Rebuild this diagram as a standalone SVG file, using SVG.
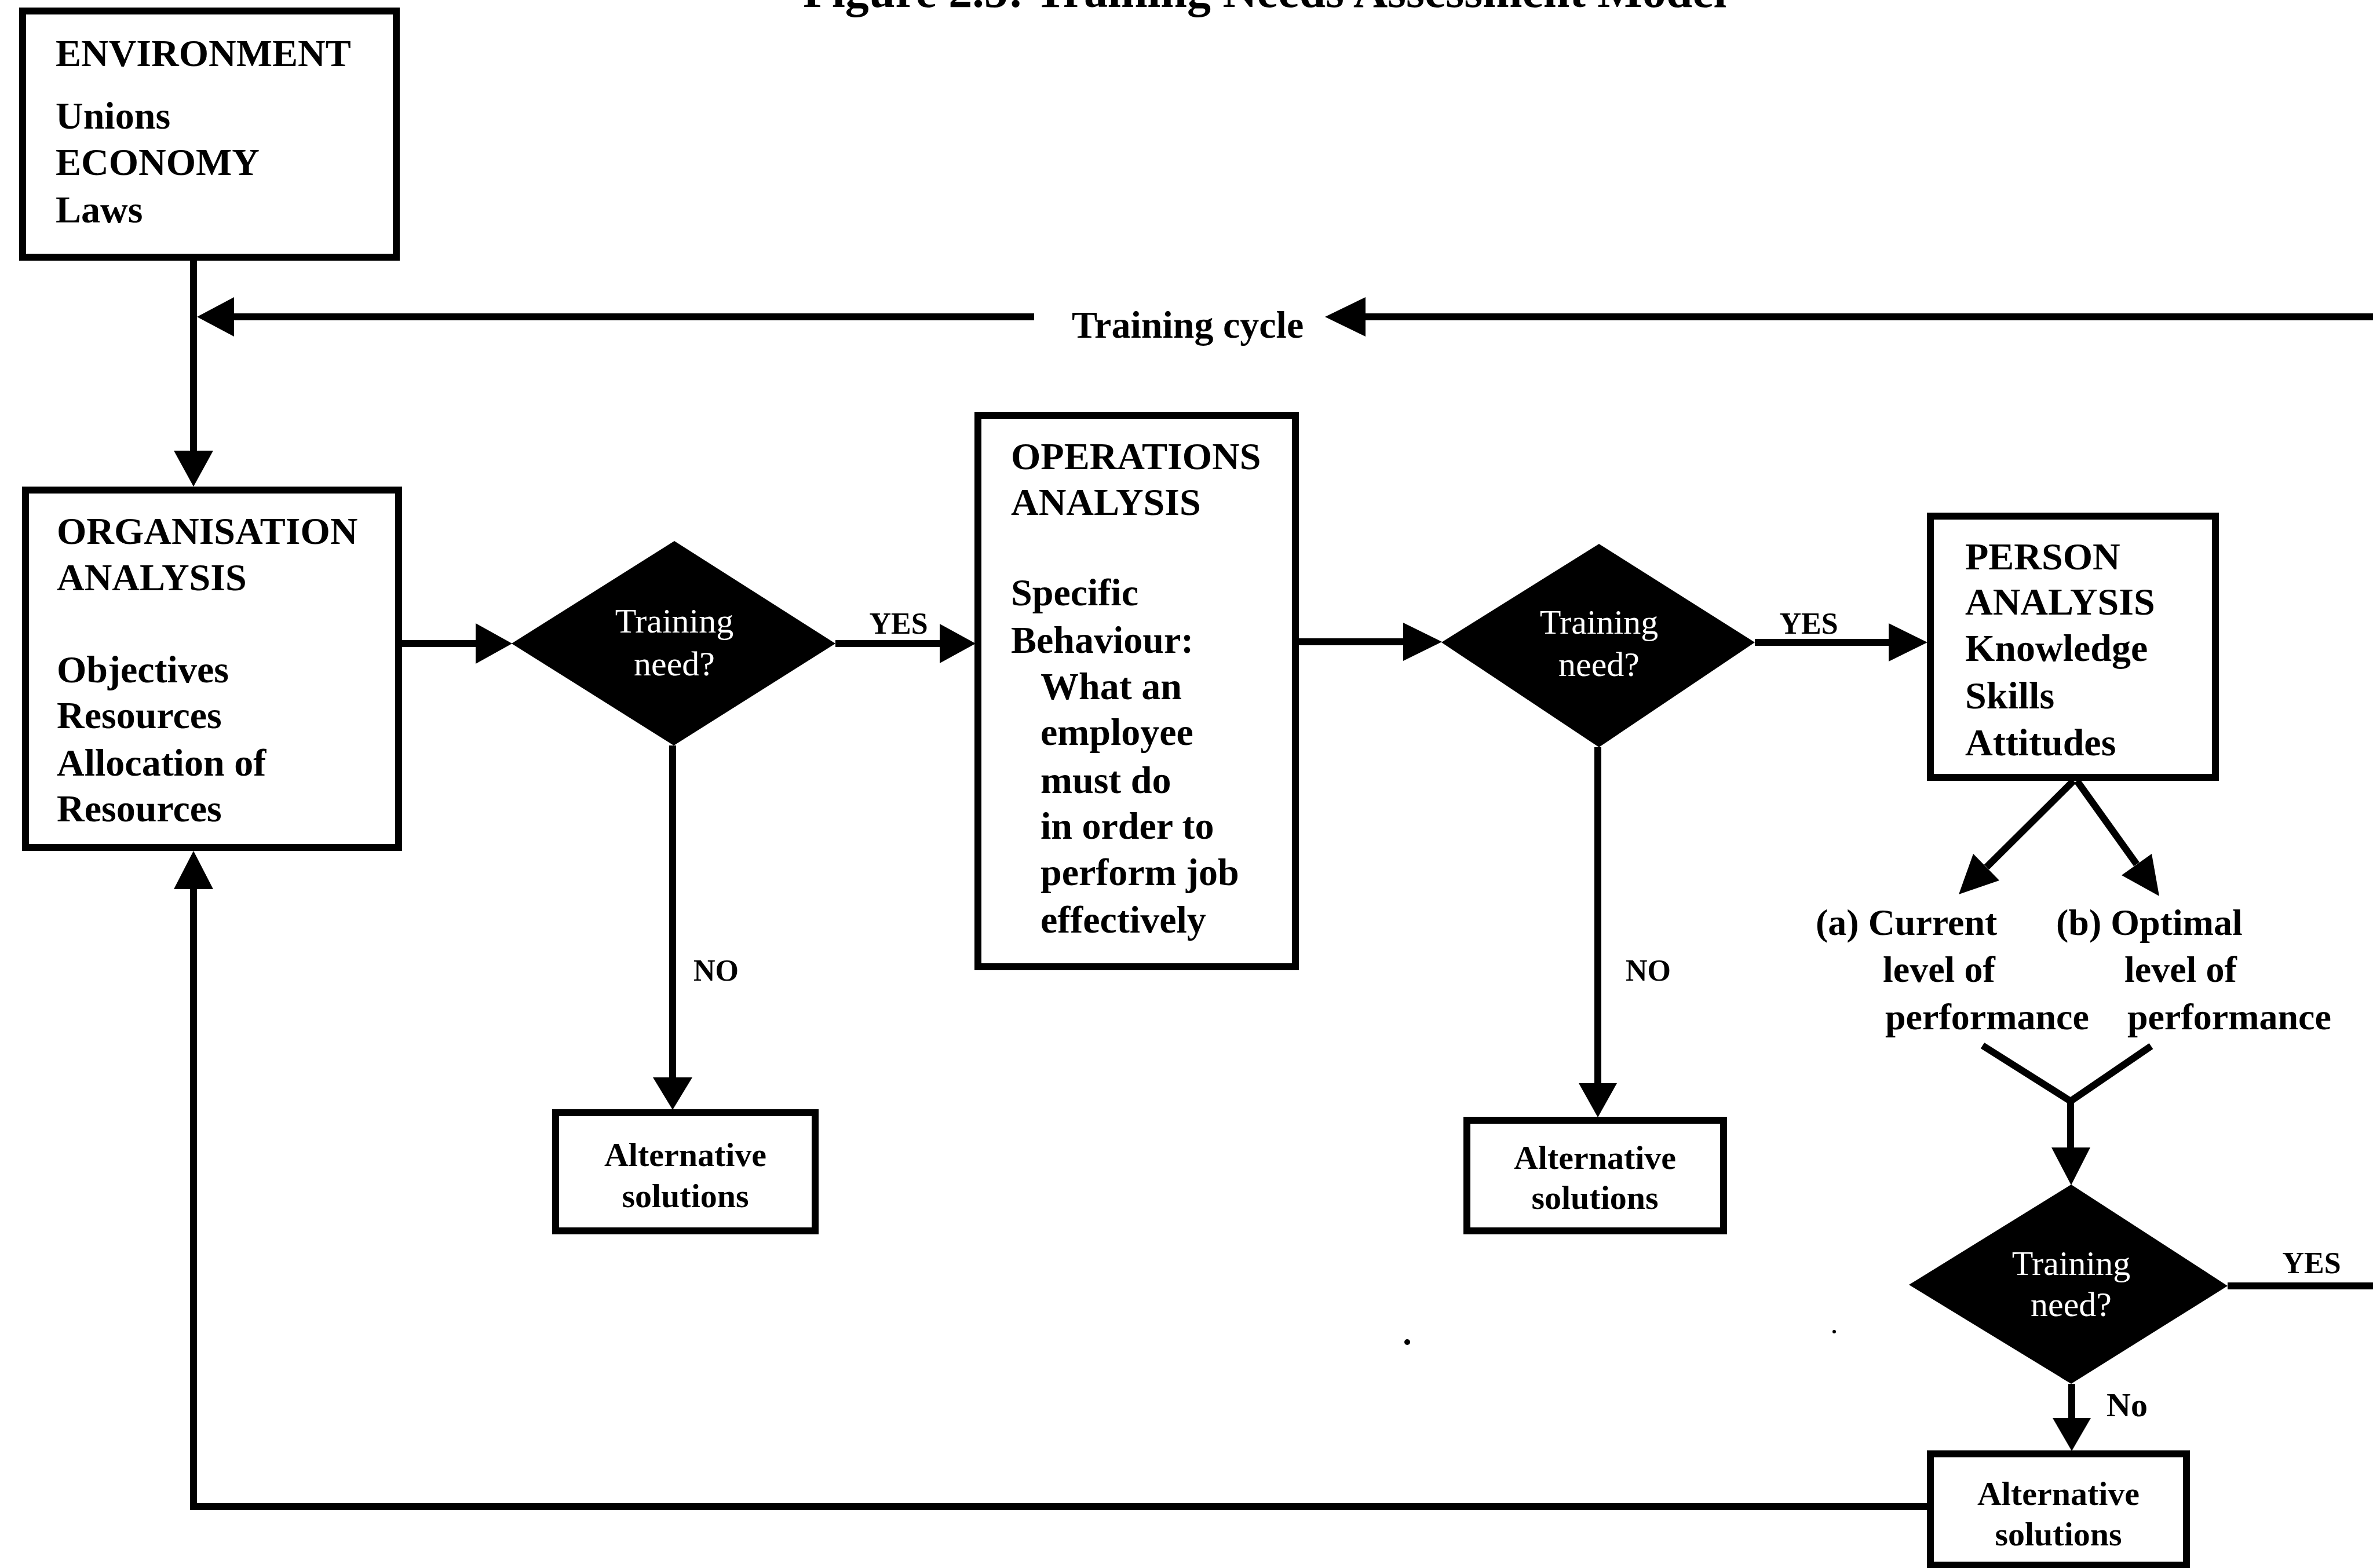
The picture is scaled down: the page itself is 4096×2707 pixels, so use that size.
<svg xmlns="http://www.w3.org/2000/svg" width="4096" height="2707" viewBox="0 0 4096 2707">
<style>
.bg{fill:#fff}
.box{fill:#fff;stroke:#000;stroke-width:12}
.dia{fill:#000}
.ln{stroke:#000;stroke-width:12;fill:none}
.ah{fill:#000}
.t{font-family:"Liberation Serif","Times New Roman",serif;font-weight:bold;font-size:66px;fill:#000}
.pl{font-family:"Liberation Serif","Times New Roman",serif;font-weight:bold;font-size:64px;fill:#000}
.dt{font-family:"Liberation Serif","Times New Roman",serif;font-size:60px;fill:#fff;text-anchor:middle}
.alt{font-family:"Liberation Serif","Times New Roman",serif;font-weight:bold;font-size:58px;fill:#000;text-anchor:middle}
.lbl{font-family:"Liberation Serif","Times New Roman",serif;font-weight:bold;font-size:52px;fill:#000}
.ttl{font-family:"Liberation Serif","Times New Roman",serif;font-weight:bold;font-size:82px;fill:#000}
</style>
<rect class="bg" x="0" y="0" width="4096" height="2707"/>
<text class="ttl" x="1386" y="12">Figure 2.5: Training Needs Assessment Model</text>

<g id="connectors">
  <!-- environment to organisation -->
  <line class="ln" x1="334" y1="450" x2="334" y2="785"/>
  <polygon class="ah" points="300,778 368,778 334,840"/>
  <!-- training cycle -->
  <line class="ln" x1="4096" y1="547" x2="2350" y2="547"/>
  <polygon class="ah" points="2287,547 2357,513 2357,581"/>
  <line class="ln" x1="1785" y1="547" x2="398" y2="547"/>
  <polygon class="ah" points="340,547 404,513 404,581"/>
  <text class="t" x="1850" y="583">Training cycle</text>
  <!-- organisation to decision 1 -->
  <line class="ln" x1="694" y1="1111" x2="830" y2="1111"/>
  <polygon class="ah" points="821,1076 821,1146 884,1111"/>
  <!-- decision 1 yes -->
  <line class="ln" x1="1442" y1="1111" x2="1630" y2="1111"/>
  <polygon class="ah" points="1622,1077 1622,1145 1684,1111"/>
  <text class="lbl" x="1551" y="1094" text-anchor="middle">YES</text>
  <!-- decision 1 no -->
  <line class="ln" x1="1161" y1="1287" x2="1161" y2="1866"/>
  <polygon class="ah" points="1127,1860 1195,1860 1161,1916"/>
  <text class="lbl" x="1236" y="1693" text-anchor="middle">NO</text>
  <!-- operations to decision 2 -->
  <line class="ln" x1="2242" y1="1108" x2="2430" y2="1108"/>
  <polygon class="ah" points="2422,1075 2422,1141 2489,1108"/>
  <!-- decision 2 yes -->
  <line class="ln" x1="3029" y1="1109" x2="3266" y2="1109"/>
  <polygon class="ah" points="3260,1076 3260,1142 3327,1109"/>
  <text class="lbl" x="3122" y="1094" text-anchor="middle">YES</text>
  <!-- decision 2 no -->
  <line class="ln" x1="2758" y1="1290" x2="2758" y2="1875"/>
  <polygon class="ah" points="2725,1870 2791,1870 2758,1929"/>
  <text class="lbl" x="2845" y="1693" text-anchor="middle">NO</text>
  <!-- person to levels -->
  <line class="ln" x1="3579" y1="1348" x2="3429" y2="1497"/>
  <polygon class="ah" points="3381,1544 3451,1520 3406,1474"/>
  <line class="ln" x1="3585" y1="1348" x2="3688" y2="1492"/>
  <polygon class="ah" points="3727,1547 3714,1474 3662,1511"/>
  <!-- merge to decision 3 -->
  <polyline class="ln" points="3422,1805 3574,1901 3713,1806"/>
  <line class="ln" x1="3574" y1="1901" x2="3574" y2="1988"/>
  <polygon class="ah" points="3541,1981 3608,1981 3575,2046"/>
  <!-- decision 3 yes -->
  <line class="ln" x1="3845" y1="2220" x2="4096" y2="2220"/>
  <text class="lbl" x="3990" y="2198" text-anchor="middle">YES</text>
  <!-- decision 3 no -->
  <line class="ln" x1="3576" y1="2389" x2="3576" y2="2452"/>
  <polygon class="ah" points="3543,2448 3609,2448 3576,2505"/>
  <text class="lbl" x="3636" y="2445" style="font-size:58px">No</text>
  <!-- feedback loop -->
  <polyline class="ln" points="3330,2601 334,2601 334,1530"/>
  <polygon class="ah" points="300,1535 368,1535 334,1469"/>
</g>

<g id="environment">
  <rect class="box" x="39" y="19" width="645" height="425"/>
  <text class="t" x="96" y="114">ENVIRONMENT</text>
  <text class="t" x="96" y="222">Unions</text>
  <text class="t" x="96" y="302">ECONOMY</text>
  <text class="t" x="96" y="384">Laws</text>
</g>

<g id="organisation">
  <rect class="box" x="44" y="846" width="644" height="617"/>
  <text class="t" x="98" y="939">ORGANISATION</text>
  <text class="t" x="98" y="1019">ANALYSIS</text>
  <text class="t" x="98" y="1178">Objectives</text>
  <text class="t" x="98" y="1257">Resources</text>
  <text class="t" x="98" y="1339">Allocation of</text>
  <text class="t" x="98" y="1418">Resources</text>
</g>

<g id="decision1">
  <polygon class="dia" points="883,1111 1164,934 1442,1111 1163,1287"/>
  <text class="dt" x="1164" y="1092">Training</text>
  <text class="dt" x="1164" y="1166">need?</text>
</g>

<g id="alt1">
  <rect class="box" x="959" y="1921" width="448" height="204"/>
  <text class="alt" x="1183" y="2013">Alternative</text>
  <text class="alt" x="1183" y="2084">solutions</text>
</g>

<g id="operations">
  <rect class="box" x="1688" y="717" width="548" height="952"/>
  <text class="t" x="1745" y="810">OPERATIONS</text>
  <text class="t" x="1745" y="889">ANALYSIS</text>
  <text class="t" x="1745" y="1045">Specific</text>
  <text class="t" x="1745" y="1127">Behaviour:</text>
  <text class="t" x="1796" y="1207">What an</text>
  <text class="t" x="1796" y="1286">employee</text>
  <text class="t" x="1796" y="1369">must do</text>
  <text class="t" x="1796" y="1448">in order to</text>
  <text class="t" x="1796" y="1528">perform job</text>
  <text class="t" x="1796" y="1610">effectively</text>
</g>

<g id="decision2">
  <polygon class="dia" points="2488,1109 2760,939 3029,1109 2760,1290"/>
  <text class="dt" x="2760" y="1094">Training</text>
  <text class="dt" x="2760" y="1167">need?</text>
</g>

<g id="alt2">
  <rect class="box" x="2532" y="1934" width="443" height="191"/>
  <text class="alt" x="2753" y="2018">Alternative</text>
  <text class="alt" x="2753" y="2087">solutions</text>
</g>

<g id="person">
  <rect class="box" x="3332" y="891" width="492" height="451"/>
  <text class="t" x="3392" y="983">PERSON</text>
  <text class="t" x="3392" y="1061">ANALYSIS</text>
  <text class="t" x="3392" y="1141">Knowledge</text>
  <text class="t" x="3392" y="1223">Skills</text>
  <text class="t" x="3392" y="1304">Attitudes</text>
</g>

<g id="current-level">
  <text class="pl" x="3134" y="1614">(a) Current</text>
  <text class="pl" x="3250" y="1695">level of</text>
  <text class="pl" x="3254" y="1777">performance</text>
</g>

<g id="optimal-level">
  <text class="pl" x="3549" y="1614">(b) Optimal</text>
  <text class="pl" x="3667" y="1695">level of</text>
  <text class="pl" x="3672" y="1777">performance</text>
</g>

<g id="decision3">
  <polygon class="dia" points="3295,2218 3575,2045 3845,2220 3575,2389"/>
  <text class="dt" x="3575" y="2201">Training</text>
  <text class="dt" x="3575" y="2272">need?</text>
</g>

<g id="alt3">
  <rect class="box" x="3332" y="2510" width="442" height="192"/>
  <text class="alt" x="3553" y="2598">Alternative</text>
  <text class="alt" x="3553" y="2668">solutions</text>
</g>

<circle cx="2429" cy="2317" r="5" fill="#000"/>
<circle cx="3166" cy="2299" r="3" fill="#000"/>
</svg>
